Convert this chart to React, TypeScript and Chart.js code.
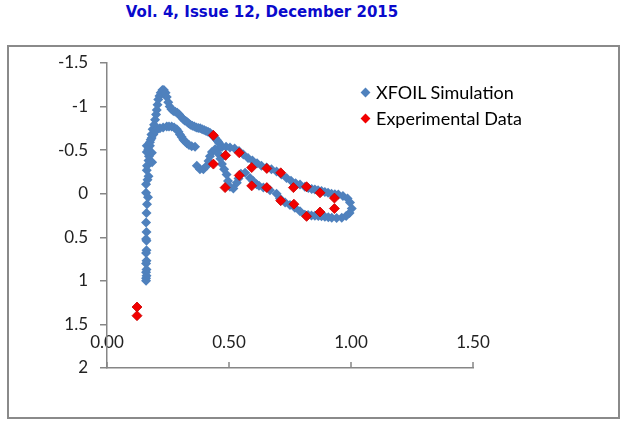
import React, { useEffect, useRef } from "react";
import { Chart, registerables } from "chart.js";

Chart.register(...registerables);

const titleText = "Vol. 4, Issue 12, December 2015";
const seriesNames = ["XFOIL Simulation", "Experimental Data"];

const xTickValues = [0, 0.5, 1, 1.5];
const xTickLabels = ["0.00", "0.50", "1.00", "1.50"];
const yTickValues = [-1.5, -1, -0.5, 0, 0.5, 1, 1.5, 2];
const yTickLabels = ["-1.5", "-1", "-0.5", "0", "0.5", "1", "1.5", "2"];

// XFOIL simulation points (x, Cp)
const xfoilX = [
  // stem
  0.160, 0.160, 0.162, 0.160, 0.162, 0.160, 0.162, 0.160, 0.162, 0.162, 0.160, 0.162, 0.160, 0.162,
  0.164, 0.168, 0.160, 0.160, 0.166, 0.170, 0.163, 0.164, 0.170, 0.172, 0.163, 0.163, 0.185, 0.184,
  // upper-left branch
  0.176, 0.179, 0.182, 0.187, 0.193, 0.197, 0.201, 0.204, 0.207, 0.210, 0.215, 0.220, 0.227, 0.233,
  0.240, 0.245, 0.251, 0.257, 0.264, 0.272, 0.280, 0.288, 0.296, 0.304, 0.311, 0.318, 0.326, 0.334,
  0.342, 0.350, 0.358, 0.366, 0.374, 0.382, 0.390, 0.398, 0.406, 0.414, 0.422, 0.430, 0.437, 0.443,
  0.449, 0.455, 0.460,
  // lower-left branch
  0.169, 0.176, 0.183, 0.190, 0.197, 0.207, 0.217, 0.230, 0.245, 0.254, 0.265, 0.275, 0.286, 0.293,
  0.299, 0.306, 0.313, 0.320, 0.327, 0.336, 0.347, 0.361,
  // right loop
  0.368, 0.381, 0.395, 0.409, 0.416, 0.422, 0.430, 0.443, 0.457, 0.471, 0.488, 0.504, 0.523, 0.541,
  0.559, 0.578, 0.596, 0.615, 0.633, 0.654, 0.674, 0.695, 0.715, 0.736, 0.754, 0.773, 0.791, 0.811,
  0.825, 0.839, 0.852, 0.865, 0.879, 0.893, 0.906, 0.920, 0.934, 0.948, 0.967, 0.986, 0.996, 1.003,
  0.994, 0.980, 0.962, 0.941, 0.921, 0.907, 0.893, 0.879, 0.866, 0.852, 0.838, 0.824, 0.811, 0.791,
  0.770, 0.750, 0.730, 0.709, 0.695, 0.668, 0.641, 0.623, 0.613, 0.598, 0.586, 0.566, 0.549, 0.539,
  0.532, 0.518, 0.504, 0.496, 0.490, 0.480, 0.471, 0.465, 0.459,
];
const xfoilY = [
  // stem
  1.00, 0.97, 0.94, 0.90, 0.87, 0.80, 0.77, 0.68, 0.65, 0.54, 0.52, 0.44, 0.33, 0.22,
  0.12, 0.04, -0.01, -0.11, -0.16, -0.20, -0.27, -0.32, -0.38, -0.43, -0.48, -0.55, -0.36, -0.47,
  // upper-left branch
  -0.55, -0.62, -0.68, -0.74, -0.79, -0.85, -0.91, -0.96, -1.02, -1.08, -1.12, -1.16, -1.19, -1.19,
  -1.16, -1.11, -1.05, -1.00, -0.97, -0.95, -0.94, -0.93, -0.91, -0.88, -0.86, -0.84, -0.83, -0.81,
  -0.79, -0.78, -0.77, -0.76, -0.755, -0.75, -0.74, -0.73, -0.72, -0.71, -0.70, -0.68, -0.66, -0.64,
  -0.62, -0.60, -0.58,
  // lower-left branch
  -0.51, -0.59, -0.64, -0.68, -0.72, -0.74, -0.75, -0.76, -0.77, -0.77, -0.77, -0.76, -0.74, -0.71,
  -0.68, -0.65, -0.62, -0.60, -0.58, -0.56, -0.545, -0.54,
  // right loop
  -0.32, -0.28, -0.28, -0.32, -0.375, -0.43, -0.48, -0.51, -0.52, -0.535, -0.54, -0.53, -0.52, -0.49,
  -0.45, -0.41, -0.38, -0.35, -0.32, -0.30, -0.28, -0.255, -0.22, -0.18, -0.15, -0.12, -0.105, -0.08,
  -0.065, -0.055, -0.048, -0.04, -0.03, -0.02, -0.01, 0.00, 0.005, 0.01, 0.025, 0.055, 0.10, 0.17,
  0.22, 0.255, 0.275, 0.28, 0.275, 0.27, 0.265, 0.26, 0.255, 0.252, 0.25, 0.245, 0.24, 0.20,
  0.16, 0.13, 0.10, 0.055, 0.00, -0.04, -0.07, -0.09, -0.11, -0.15, -0.18, -0.24, -0.23, -0.175,
  -0.125, -0.06, -0.08, -0.145, -0.22, -0.28, -0.34, -0.40, -0.45,
];

// Experimental data points (x, Cp)
const expX = [
  0.436, 0.436, 0.486, 0.542, 0.484, 0.542, 0.593, 0.593, 0.655, 0.655, 0.712,
  0.712, 0.764, 0.766, 0.818, 0.818, 0.873, 0.873, 0.932, 0.932, 0.123, 0.123,
];
const expY = [
  -0.67, -0.34, -0.44, -0.47, -0.07, -0.21, -0.30, -0.09, -0.29, -0.07, -0.24,
  0.08, -0.07, 0.12, -0.08, 0.26, -0.01, 0.21, 0.05, 0.17, 1.30, 1.40,
];

const blue = "#4F81BD";
const red = "#F20000";
const axisColor = "#868686";
const tickFont = { family: "Lato", size: 17 };

const innerXTicks = {
  id: "innerXTicks",
  afterDraw(chart: any) {
    const xs = chart.scales.x;
    const ctx = chart.ctx;
    const b = chart.chartArea.bottom;
    ctx.save();
    ctx.strokeStyle = axisColor;
    ctx.lineWidth = 1.5;
    xTickValues.forEach((v) => {
      const px = Math.round(xs.getPixelForValue(v));
      ctx.beginPath();
      ctx.moveTo(px, b);
      ctx.lineTo(px, b - 6);
      ctx.stroke();
    });
    ctx.restore();
  },
};

export default function App() {
  const ref = useRef<HTMLCanvasElement | null>(null);

  useEffect(() => {
    if (!ref.current) return;
    const xfoil = xfoilX.map((x, i) => ({ x, y: xfoilY[i] }));
    const exp = expX.map((x, i) => ({ x, y: expY[i] }));
    const chart = new Chart(ref.current, {
      type: "scatter",
      data: {
        datasets: [
          {
            label: seriesNames[0],
            data: xfoil,
            pointStyle: "rectRot",
            pointRadius: 5,
            backgroundColor: blue,
            borderColor: blue,
            borderWidth: 0,
            order: 1,
          },
          {
            label: seriesNames[1],
            data: exp,
            pointStyle: "rectRot",
            pointRadius: 5,
            backgroundColor: red,
            borderColor: "#C80000",
            borderWidth: 0.8,
            order: 0,
          },
        ],
      },
      options: {
        animation: false,
        responsive: false,
        devicePixelRatio: 1,
        layout: { padding: { left: 0, top: 63, right: 150, bottom: 0 } },
        plugins: { legend: { display: false }, tooltip: { enabled: false }, title: { display: false } },
        scales: {
          x: {
            type: "linear",
            position: "bottom",
            min: 0,
            max: 1.5,
            afterBuildTicks: (s: any) => {
              s.ticks = xTickValues.map((v) => ({ value: v }));
            },
            afterFit: (s: any) => {
              s.height = 56;
            },
            ticks: {
              mirror: true,
              padding: 15,
              maxRotation: 0,
              autoSkip: false,
              color: "#222",
              font: tickFont,
              callback: (_v: any, i: number) => xTickLabels[i],
            },
            grid: { display: true, drawOnChartArea: false, drawTicks: false, color: axisColor },
            border: { display: true, color: axisColor, width: 1.5 },
          },
          y: {
            type: "linear",
            position: "left",
            reverse: true,
            min: -1.5,
            max: 2,
            afterBuildTicks: (s: any) => {
              s.ticks = yTickValues.map((v) => ({ value: v }));
            },
            afterFit: (s: any) => {
              s.width = 107;
            },
            ticks: {
              padding: 12,
              autoSkip: false,
              color: "#222",
              font: tickFont,
              callback: (_v: any, i: number) => yTickLabels[i],
            },
            grid: {
              display: true,
              drawOnChartArea: false,
              drawTicks: true,
              tickLength: 7,
              color: axisColor,
              lineWidth: 1.5,
            },
            border: { display: true, color: axisColor, width: 1.5 },
          },
        },
      },
      plugins: [innerXTicks],
    });
    return () => chart.destroy();
  }, []);

  const legendItem = (color: string, text: string, top: number) => (
    <div style={{ position: "absolute", left: 360, top, height: 20, whiteSpace: "nowrap" }}>
      <div
        style={{
          position: "absolute",
          left: 2,
          top: 7,
          width: 7,
          height: 7,
          background: color,
          transform: "rotate(45deg)",
        }}
      />
      <span
        style={{
          position: "absolute",
          left: 16,
          top: 0,
          fontFamily: "Lato",
          fontSize: 18,
          lineHeight: "20px",
          color: "#000",
        }}
      >
        {text}
      </span>
    </div>
  );

  return (
    <div style={{ position: "fixed", left: 0, top: 0, width: 623, height: 424, background: "#fff", overflow: "hidden" }}>
      <div
        style={{
          position: "absolute",
          left: 62,
          top: 3,
          width: 400,
          textAlign: "center",
          fontFamily: "'DejaVu Sans', Verdana, sans-serif",
          fontWeight: "bold",
          fontSize: 15,
          lineHeight: "18px",
          color: "#0A0ACC",
          whiteSpace: "nowrap",
        }}
      >
        {titleText}
      </div>
      <div
        style={{
          position: "absolute",
          left: 7,
          top: 45,
          width: 613,
          height: 374,
          border: "2px solid #8a8a8a",
          boxSizing: "border-box",
        }}
      />
      <canvas ref={ref} width={623} height={424} style={{ position: "absolute", left: 0, top: 0, width: 623, height: 424 }} />
      {legendItem(blue, seriesNames[0], 82)}
      {legendItem(red, seriesNames[1], 108)}
    </div>
  );
}
